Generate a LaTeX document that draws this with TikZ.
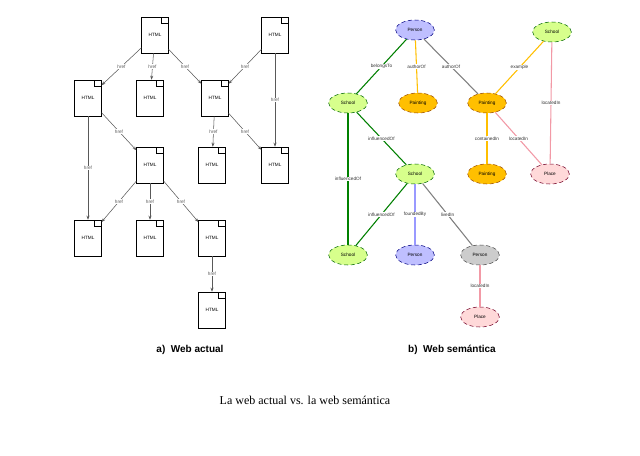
\documentclass[tikz,border=0pt]{standalone}
\usepackage{fontspec}
\setsansfont{Liberation Sans}
\setmainfont{Liberation Serif}
\usetikzlibrary{shapes.geometric,arrows.meta}
\begin{document}
\begin{tikzpicture}[x=0.75pt,y=-0.75pt,
 doc/.style={draw,fill=white,minimum width=20pt,minimum height=27pt,inner sep=0pt,font=\sffamily\fontsize{3.5}{4}\selectfont,
   path picture={\fill[white] ([xshift=-5pt]path picture bounding box.north east) -- (path picture bounding box.north east) -- ([yshift=-5pt]path picture bounding box.north east) -- cycle;
   \draw ([xshift=-5pt]path picture bounding box.north east) -- ([xshift=-5pt,yshift=-5pt]path picture bounding box.north east) -- ([yshift=-5pt]path picture bounding box.north east);}},
 arr/.style={-{Stealth[length=3pt]},thin,gray!70!black},
 hl/.style={fill=white,inner sep=0.5pt,font=\sffamily\fontsize{3.5}{4}\selectfont},
 ell/.style={ellipse,draw,densely dashed,minimum width=29pt,minimum height=15pt,inner sep=0pt,text=black,font=\sffamily\fontsize{3.5}{4}\selectfont},
 sch/.style={ell,fill=green!35!yellow!45,draw=green!40!black},
 per/.style={ell,fill=blue!25,draw=blue!50!black},
 pai/.style={ell,fill=orange!50!yellow,draw=orange!60!black},
 pla/.style={ell,fill=pink!60,draw=purple!60!black},
 pgr/.style={ell,fill=gray!40,draw=black!70},
 el/.style={font=\sffamily\fontsize{3.5}{4}\selectfont,fill=white,inner sep=0.5pt,text=black!80},
 eg/.style={green!50!black,thick},
 eo/.style={orange!50!yellow,thick},
 ep/.style={pink!80!purple,thick},
 eb/.style={blue!40,thick},
 ey/.style={gray,thick}]
\useasboundingbox (0,0) rectangle (640,455);
\fill[white] (0,0) rectangle (640,455);
% left
\node[doc] (A) at (155,35) {HTML};
\node[doc] (B) at (275,35) {HTML};
\node[doc] (C) at (88,98) {HTML};
\node[doc] (D) at (150,98) {HTML};
\node[doc] (E) at (215,98) {HTML};
\node[doc] (F) at (150,165) {HTML};
\node[doc] (G) at (212,165) {HTML};
\node[doc] (H) at (275,165) {HTML};
\node[doc] (I) at (88,238) {HTML};
\node[doc] (J) at (150,238) {HTML};
\node[doc] (K) at (212,238) {HTML};
\node[doc] (L) at (212,310) {HTML};
\foreach \a/\b in {A/C,A/D,A/E,B/E,B/H,C/F,C/I,E/G,E/H,F/I,F/J,F/K,K/L}
  \draw[arr] (\a) -- node[hl]{href} (\b);
% right
\node[per] (P1) at (415,30) {Person};
\node[sch] (S1) at (552,32) {School};
\node[sch] (S2) at (348,103) {School};
\node[pai] (Pa1) at (418,103) {Painting};
\node[pai] (Pa2) at (487,103) {Painting};
\node[sch] (S3) at (415,174) {School};
\node[pai] (Pa3) at (487,174) {Painting};
\node[pla] (Pl1) at (550,174) {Place};
\node[sch] (S4) at (348,255) {School};
\node[per] (P2) at (415,255) {Person};
\node[pgr] (P3) at (480,255) {Person};
\node[pla] (Pl2) at (480,317) {Place};
\draw[eg] (P1) -- node[el]{belongsTo} (S2);
\draw[eo] (P1) -- node[el]{authorOf} (Pa1);
\draw[ey] (P1) -- node[el]{authorOf} (Pa2);
\draw[eo] (S1) -- node[el]{example} (Pa2);
\draw[ep] (S1) -- node[el]{locatedIn} (Pl1);
\draw[eg] (S2) -- node[el]{influencedOf} (S3);
\draw[eg] (S2) -- node[el]{influencedOf} (S4);
\draw[eo] (Pa2) -- node[el]{containedIn} (Pa3);
\draw[ep] (Pa2) -- node[el]{locatedIn} (Pl1);
\draw[eg] (S3) -- node[el]{influencedOf} (S4);
\draw[eb] (S3) -- node[el]{foundedBy} (P2);
\draw[ey] (S3) -- node[el]{livedIn} (P3);
\draw[ep] (P3) -- node[el]{locatedIn} (Pl2);
\node[font=\sffamily\bfseries\fontsize{7.5}{9}\selectfont] (ca) at (190,350) {a)\ \ Web actual};
\node[font=\sffamily\bfseries\fontsize{7.5}{9}\selectfont] (cb) at (452,350) {b)\ \ Web semántica};
\node[font=\rmfamily\fontsize{9}{11}\selectfont] (cc) at (305,400) {La web actual vs. la web semántica};
\end{tikzpicture}
\end{document}
